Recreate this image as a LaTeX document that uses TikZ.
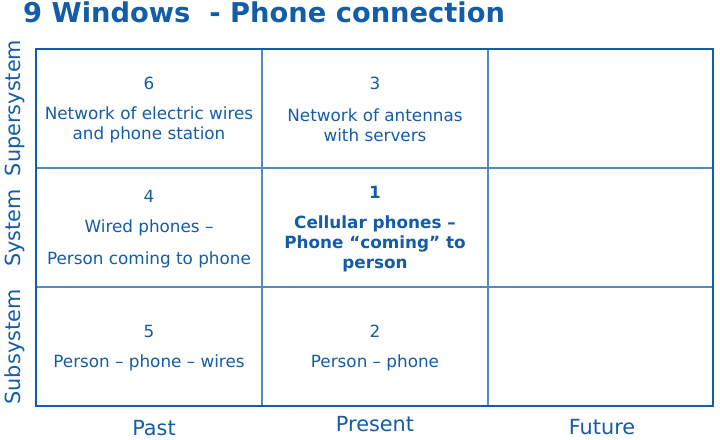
\documentclass[tikz,border=0pt]{standalone}
\usepackage{fontspec}
\setmainfont{DejaVu Sans}
\definecolor{tblue}{RGB}{18,92,168}
\definecolor{lblue}{RGB}{84,138,194}
\tikzset{
  celltxt/.style={text=tblue, align=center, inner sep=0pt, font=\fontsize{16.8}{20}\selectfont},
  boldtxt/.style={celltxt, font=\fontsize{16.8}{20}\selectfont\bfseries},
  axistxt/.style={text=tblue, inner sep=0pt, font=\fontsize{20.8}{24}\selectfont},
  outerline/.style={draw=tblue, line width=2.4pt},
  innerline/.style={draw=lblue, line width=1.3pt}
}
\begin{document}
\begin{tikzpicture}[x=1pt,y=-1pt]
\useasboundingbox (0,0) rectangle (720,439);
% title
\node[text=tblue, anchor=base west, inner sep=0pt, font=\fontsize{27.3}{30}\selectfont\bfseries] (title) at (23,23) {9 Windows\ \ - Phone connection};
% grid
\coordinate (tl) at (36,49);
\coordinate (br) at (713,406);
\draw[innerline] (262,49) -- (262,406);
\draw[innerline] (488,49) -- (488,406);
\draw[innerline] (36,168) -- (713,168);
\draw[innerline] (36,287) -- (713,287);
\draw[outerline] (tl) rectangle (br);
% row labels
\node[axistxt, rotate=90] (sup) at (15,108) {Supersystem};
\node[axistxt, rotate=90] (sys) at (15,228) {System};
\node[axistxt, rotate=90] (sub) at (15,347) {Subsystem};
% column labels
\node[axistxt] (past) at (154,428) {Past};
\node[axistxt] (pres) at (375,424) {Present};
\node[axistxt] (fut) at (602,427) {Future};
% cells
\node[celltxt] (n6) at (149,83) {6};
\node[celltxt] (t6) at (149,125) {Network of electric wires\\and phone station};
\node[celltxt] (n3) at (375,83) {3};
\node[celltxt] (t3) at (375,125) {Network of antennas\\with servers};
\node[celltxt] (n4) at (149,196) {4};
\node[celltxt] (t4a) at (149,228) {Wired phones --};
\node[celltxt] (t4b) at (149,260) {Person coming to phone};
\node[boldtxt] (n1) at (375,192) {1};
\node[boldtxt] (t1) at (375,244) {Cellular phones --\\Phone ``coming'' to\\person};
\node[celltxt] (n5) at (149,331) {5};
\node[celltxt] (t5) at (149,363) {Person -- phone -- wires};
\node[celltxt] (n2) at (375,331) {2};
\node[celltxt] (t2) at (375,363) {Person -- phone};
\end{tikzpicture}
\end{document}
